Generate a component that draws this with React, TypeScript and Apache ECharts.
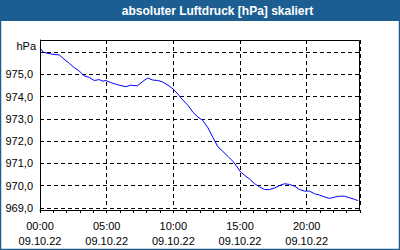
import React, { useEffect, useRef } from "react";
import * as echarts from "echarts";

const title = "absoluter Luftdruck [hPa] skaliert";
const unitLabel = "hPa";
const dateLabel = "09.10.22";

// hours since 00:00 on 09.10.22
const hours = [
  0.0, 0.26, 0.6, 1.06, 1.44, 1.8, 2.2, 2.56, 2.94, 3.3, 3.7, 4.07, 4.44, 4.7, 4.94,
  5.3, 5.8, 6.44, 6.8, 7.3, 7.8, 8.08, 8.46, 8.84, 9.2, 9.6, 10.0, 10.34, 10.7, 11.1,
  11.46, 11.84, 12.2, 12.6, 12.96, 13.34, 13.7, 14.1, 14.46, 14.84, 15.0, 15.34, 15.7,
  16.1, 16.46, 16.84, 17.2, 17.6, 17.96, 18.34, 18.7, 19.1, 19.46, 19.84, 20.2, 20.6,
  20.96, 21.34, 21.7, 22.1, 22.46, 22.84, 23.2, 23.6, 23.84,
];
const pressure = [
  976.2, 976.0, 975.95, 975.9, 975.88, 975.69, 975.5, 975.31, 975.16, 974.94, 974.87,
  974.73, 974.77, 974.7, 974.73, 974.64, 974.54, 974.45, 974.52, 974.49, 974.73, 974.84,
  974.75, 974.73, 974.66, 974.52, 974.34, 974.12, 973.86, 973.61, 973.31, 973.09, 972.94,
  972.6, 972.18, 971.75, 971.55, 971.32, 971.1, 970.8, 970.65, 970.47, 970.31, 970.09,
  969.95, 969.83, 969.83, 969.9, 970.01, 970.09, 970.06, 969.98, 969.83, 969.76, 969.76,
  969.64, 969.58, 969.5, 969.43, 969.49, 969.53, 969.53, 969.46, 969.39, 969.33,
];

const FONT = "Liberation Sans";

export default function App() {
  const ref = useRef<HTMLDivElement>(null);
  useEffect(() => {
    if (!ref.current) return;
    const chart = echarts.init(ref.current, null, { renderer: "svg" });
    const pad = (n: number) => (n < 10 ? "0" + n : "" + n);
    chart.setOption({
      animation: false,
      backgroundColor: "#ffffff",
      grid: { left: 40, right: 40, top: 40, bottom: 42, containLabel: false },
      xAxis: [
        {
          type: "value",
          min: 0,
          max: 24,
          interval: 1,
          position: "bottom",
          offset: 2,
          axisLine: { show: true, lineStyle: { color: "#000", width: 1 } },
          axisTick: { show: true, length: 3, lineStyle: { color: "#000", width: 1 } },
          axisLabel: { show: false },
          splitLine: { show: false },
        },
        {
          type: "value",
          min: 0,
          max: 24,
          interval: 5,
          position: "bottom",
          offset: 2,
          axisLine: { show: false },
          axisTick: { show: false },
          axisLabel: {
            show: true,
            margin: 8,
            color: "#000",
            fontFamily: FONT,
            fontSize: 11,
            lineHeight: 15,
            formatter: (v: number) =>
              v % 5 === 0 && v < 24 ? `${pad(v)}:00\n${dateLabel}` : "",
          },
          splitLine: {
            show: true,
            lineStyle: { color: "#000", width: 1, type: [4, 3] },
          },
        },
      ],
      yAxis: {
        type: "value",
        min: 969,
        max: 976.55,
        interval: 1,
        axisLine: { show: true, lineStyle: { color: "#000", width: 1 } },
        axisTick: { show: false },
        axisLabel: {
          show: true,
          margin: 7,
          color: "#000",
          fontFamily: FONT,
          fontSize: 11,
          formatter: (v: number) =>
            Number.isInteger(v) && v < 976 ? v.toFixed(1).replace(".", ",") : "",
        },
        splitLine: {
          show: true,
          lineStyle: { color: "#000", width: 1, type: [4, 3] },
        },
      },
      series: [
        {
          type: "line",
          xAxisIndex: 0,
          data: hours.map((h, i) => [h, pressure[i]]),
          showSymbol: false,
          symbol: "none",
          lineStyle: { color: "#0000ff", width: 1 },
          itemStyle: { color: "#0000ff" },
        },
      ],
      graphic: [
        {
          type: "rect",
          shape: { x: 0, y: 0, width: 400, height: 21 },
          style: { fill: "#1c5e92" },
        },
        {
          type: "rect",
          shape: { x: 0.5, y: 0.5, width: 399, height: 249 },
          style: { fill: "none", stroke: "#1c5e92", lineWidth: 1.5 },
        },
        {
          type: "text",
          x: 217.5,
          y: 10.5,
          style: {
            text: title,
            fill: "#ffffff",
            font: `bold 12px "${FONT}"`,
            textAlign: "center",
            textVerticalAlign: "middle",
          },
        },
        {
          type: "text",
          x: 36,
          y: 46,
          style: {
            text: unitLabel,
            fill: "#000",
            font: `11px "${FONT}"`,
            textAlign: "right",
            textVerticalAlign: "middle",
          },
        },
        {
          type: "rect",
          shape: { x: 40.5, y: 40.5, width: 319, height: 170 },
          style: { fill: "none", stroke: "#000", lineWidth: 1 },
          z: 10,
        },
      ],
    });
    return () => chart.dispose();
  }, []);
  return (
    <div
      ref={ref}
      style={{ position: "absolute", left: 0, top: 0, width: 400, height: 250 }}
    />
  );
}
